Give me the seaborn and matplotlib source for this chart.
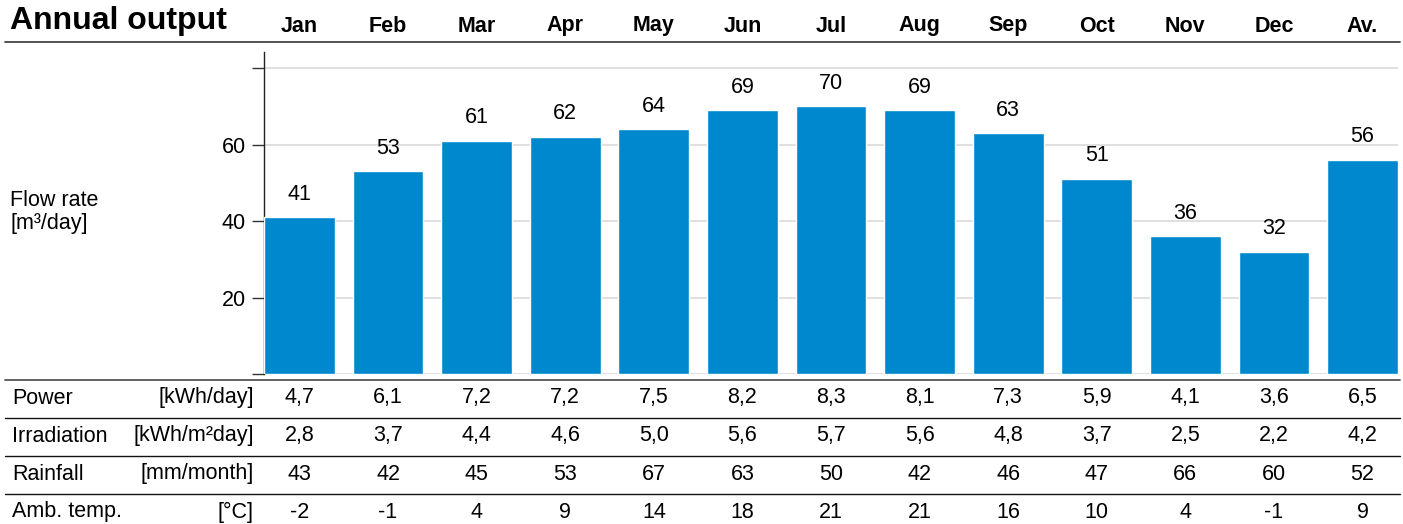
import matplotlib
matplotlib.use("Agg")
import matplotlib.pyplot as plt
import matplotlib.transforms as mtransforms
import seaborn as sns
import pandas as pd

sns.set_theme(style="white")
plt.rcParams['font.family'] = ['Liberation Sans', 'DejaVu Sans']

# ---- data ----
months = ["Jan", "Feb", "Mar", "Apr", "May", "Jun", "Jul", "Aug", "Sep", "Oct", "Nov", "Dec", "Av."]
flow_rate = [41, 53, 61, 62, 64, 69, 70, 69, 63, 51, 36, 32, 56]
power = [4.7, 6.1, 7.2, 7.2, 7.5, 8.2, 8.3, 8.1, 7.3, 5.9, 4.1, 3.6, 6.5]
irradiation = [2.8, 3.7, 4.4, 4.6, 5.0, 5.6, 5.7, 5.6, 4.8, 3.7, 2.5, 2.2, 4.2]
rainfall = [43, 42, 45, 53, 67, 63, 50, 42, 46, 47, 66, 60, 52]
amb_temp = [-2, -1, 4, 9, 14, 18, 21, 21, 16, 10, 4, -1, 9]
row_names = ["Power", "Irradiation", "Rainfall", "Amb. temp."]
row_units = ["[kWh/day]", "[kWh/m²day]", "[mm/month]", "[°C]"]
yticks = [0, 20, 40, 60, 80]
ytick_labels = ["", "20", "40", "60", ""]

W, H = 1403, 524
FS = 15.5
fig = plt.figure(figsize=(W / 100, H / 100), dpi=100)

def fx(px):
    return px / W

def fy(py):
    return 1 - py / H

ax = fig.add_axes([fx(264), fy(374), fx(1398) - fx(264), fy(52) - fy(374)])
df = pd.DataFrame({"month": months, "flow": flow_rate})
color = "#0088ce"
sns.barplot(data=df, x="month", y="flow", color=color, saturation=1, width=0.8, ax=ax, zorder=3)
ax.set_xlim(-0.4, 12.4)
ax.set_ylim(0, 84.2)
ax.set_xlabel("")
ax.set_ylabel("")
ax.set_xticks([])
ax.set_yticks(yticks)
ax.set_yticklabels(ytick_labels, fontsize=FS, color="#000000")
ax.tick_params(axis="y", direction="out", length=9, width=1, color="#333333", pad=4, left=True)
ax.yaxis.grid(True, color="#dddddd", linewidth=1.3, zorder=0)
ax.set_axisbelow(True)
for s in ["top", "right", "bottom"]:
    ax.spines[s].set_visible(False)
ax.spines["left"].set_color("#222222")
ax.spines["left"].set_linewidth(1)
for c in ax.containers:
    ax.bar_label(c, labels=[str(v) for v in flow_rate], padding=9, fontsize=FS, color="#000000")

# title & headers
fig.text(fx(10), fy(21), "Annual output", fontsize=23, fontweight="bold", va="center", ha="left", color="#000000")
trans = mtransforms.blended_transform_factory(ax.transData, fig.transFigure)
for i, m in enumerate(months):
    ax.text(i, fy(26), m, transform=trans, ha="center", va="center", fontsize=FS, fontweight="bold",
            clip_on=False, color="#000000")

fig.text(fx(10), fy(212), "Flow rate\n[m³/day]", fontsize=FS, va="center", ha="left", linespacing=1.15, color="#000000")

# lines
fig.add_artist(plt.Line2D([fx(5), fx(1400)], [fy(42), fy(42)], color="#444444", linewidth=1.3))
fig.add_artist(plt.Line2D([fx(5), fx(1400)], [fy(380), fy(380)], color="#555555", linewidth=1.3))
for yy in [418, 456, 494]:
    fig.add_artist(plt.Line2D([fx(5), fx(1400)], [fy(yy), fy(yy)], color="#111111", linewidth=1.0))

def fmt1(v):
    return f"{v:.1f}".replace(".", ",")

rows = [
    [fmt1(v) for v in power],
    [fmt1(v) for v in irradiation],
    [str(v) for v in rainfall],
    [str(v) for v in amb_temp],
]
row_y = [398, 436, 474, 512]
for r, (name, unit, vals) in enumerate(zip(row_names, row_units, rows)):
    y = fy(row_y[r])
    fig.text(fx(12), y, name, fontsize=FS, va="center", ha="left", color="#000000")
    fig.text(fx(254), y, unit, fontsize=FS, va="center", ha="right", color="#000000")
    for i, v in enumerate(vals):
        ax.text(i, y, v, transform=trans, ha="center", va="center", fontsize=FS, clip_on=False, color="#000000")

fig.savefig("out.png", dpi=100)
